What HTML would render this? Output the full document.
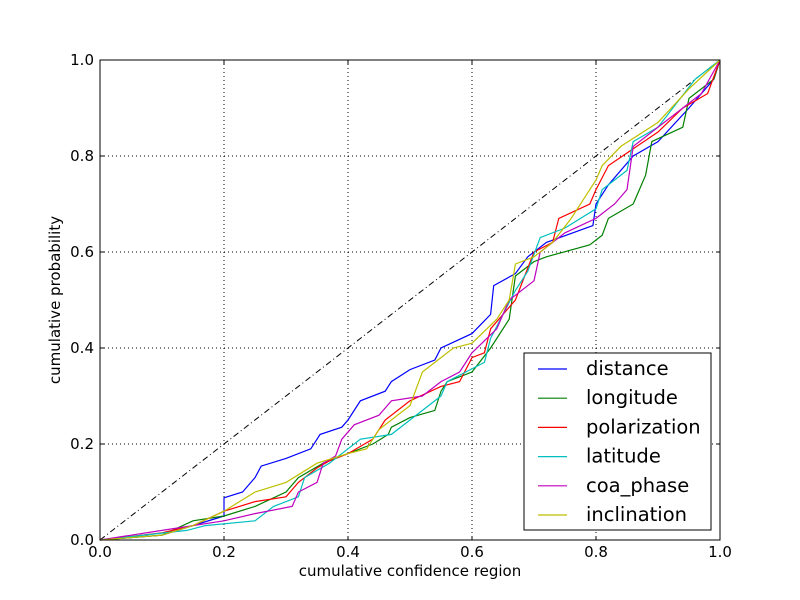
<!DOCTYPE html>
<html><head><meta charset="utf-8"><style>
body{margin:0;background:#fff}
svg{display:block;font-family:"DejaVu Sans","Liberation Sans",sans-serif}
</style></head><body>
<svg id="chart" width="800" height="600">
<rect width="800" height="600" fill="#fff"/>
<g id="grid"></g>
<line x1="100" y1="540" x2="720" y2="60" stroke="#000" stroke-dasharray="6,3,1,3"/>
<g id="series"></g>
<rect x="100" y="60" width="620" height="480" fill="none" stroke="#000"/>
<g id="ticks"></g>
<text x="410" y="576" font-size="15" text-anchor="middle">cumulative confidence region</text>
<text x="60" y="300" font-size="15" text-anchor="middle" transform="rotate(-90 60 300)">cumulative probability</text>
<g id="legend"></g>
</svg>
<script>
const tickVals=[0,0.2,0.4,0.6,0.8,1.0];
const tickLabels=["0.0","0.2","0.4","0.6","0.8","1.0"];
const names=["distance","longitude","polarization","latitude","coa_phase","inclination"];
const colors=["#0000ff","#008000","#ff0000","#00bfbf","#bf00bf","#bfbf00"];
const distanceX=[0,0.1,0.2,0.2,0.23,0.25,0.26,0.3,0.34,0.355,0.39,0.4,0.42,0.46,0.47,0.5,0.54,0.55,0.6,0.63,0.635,0.67,0.69,0.72,0.795,0.8,0.82,0.86,0.9,0.95,0.99,1];
const distanceY=[0,0.01,0.05,0.088,0.1,0.13,0.154,0.17,0.19,0.22,0.235,0.25,0.29,0.31,0.33,0.355,0.375,0.4,0.43,0.47,0.53,0.555,0.59,0.62,0.655,0.7,0.74,0.8,0.83,0.9,0.96,1];
const longitudeX=[0,0.1,0.15,0.2,0.25,0.3,0.32,0.36,0.4,0.44,0.465,0.47,0.5,0.54,0.55,0.56,0.6,0.63,0.66,0.67,0.7,0.72,0.79,0.81,0.82,0.86,0.87,0.88,0.89,0.94,0.95,0.99,1];
const longitudeY=[0,0.01,0.04,0.05,0.07,0.1,0.13,0.16,0.18,0.2,0.22,0.235,0.255,0.27,0.31,0.33,0.35,0.4,0.46,0.55,0.58,0.59,0.615,0.635,0.67,0.7,0.73,0.76,0.83,0.86,0.92,0.96,1];
const polarizationX=[0,0.1,0.15,0.2,0.25,0.3,0.32,0.35,0.37,0.4,0.44,0.46,0.5,0.55,0.58,0.6,0.62,0.63,0.67,0.7,0.73,0.74,0.79,0.8,0.82,0.9,0.94,0.98,1];
const polarizationY=[0,0.015,0.03,0.06,0.08,0.09,0.12,0.15,0.165,0.18,0.21,0.25,0.29,0.32,0.33,0.38,0.39,0.44,0.5,0.6,0.62,0.67,0.7,0.73,0.78,0.85,0.9,0.93,1];
const latitudeX=[0,0.14,0.17,0.25,0.28,0.32,0.33,0.37,0.4,0.42,0.47,0.5,0.53,0.55,0.56,0.59,0.62,0.63,0.67,0.69,0.71,0.75,0.8,0.81,0.85,0.86,0.9,0.96,1];
const latitudeY=[0,0.02,0.03,0.04,0.07,0.09,0.13,0.16,0.19,0.21,0.22,0.25,0.28,0.3,0.33,0.35,0.37,0.42,0.52,0.56,0.63,0.65,0.69,0.73,0.77,0.83,0.86,0.96,1];
const coaX=[0,0.1,0.2,0.25,0.31,0.32,0.35,0.36,0.38,0.39,0.41,0.45,0.47,0.52,0.55,0.58,0.6,0.64,0.66,0.7,0.71,0.75,0.8,0.83,0.85,0.86,0.92,0.97,1];
const coaY=[0,0.02,0.04,0.055,0.07,0.1,0.12,0.16,0.175,0.21,0.24,0.26,0.29,0.3,0.33,0.35,0.39,0.44,0.5,0.54,0.6,0.64,0.67,0.7,0.73,0.82,0.88,0.93,1];
const inclinationX=[0,0.1,0.15,0.2,0.25,0.3,0.35,0.4,0.43,0.45,0.5,0.52,0.55,0.57,0.6,0.64,0.66,0.67,0.7,0.73,0.76,0.8,0.81,0.84,0.9,0.95,1];
const inclinationY=[0,0.01,0.03,0.06,0.1,0.12,0.16,0.18,0.19,0.23,0.28,0.35,0.38,0.4,0.41,0.46,0.5,0.575,0.59,0.62,0.67,0.75,0.78,0.82,0.87,0.94,1];

const NS="http://www.w3.org/2000/svg";
const sx=v=>100+620*v, sy=v=>540-480*v;
function mk(tag,attrs,parent){const e=document.createElementNS(NS,tag);for(const k in attrs)e.setAttribute(k,attrs[k]);parent.appendChild(e);return e;}
const grid=document.getElementById('grid'),ticks=document.getElementById('ticks');
tickVals.forEach((v,i)=>{
  if(v>0&&v<1){
    const gx=mk('line',{x1:sx(v),x2:sx(v),y1:60,y2:540,stroke:'#000','stroke-dasharray':'1,3'},grid);
    
    
    const gy=mk('line',{x1:100,x2:720,y1:sy(v),y2:sy(v),stroke:'#000','stroke-dasharray':'1,3'},grid);
    
    
  }
  mk('line',{x1:sx(v),x2:sx(v),y1:540,y2:536,stroke:'#000'},ticks);
  mk('line',{x1:sx(v),x2:sx(v),y1:60,y2:64,stroke:'#000'},ticks);
  mk('line',{x1:100,x2:104,y1:sy(v),y2:sy(v),stroke:'#000'},ticks);
  mk('line',{x1:720,x2:716,y1:sy(v),y2:sy(v),stroke:'#000'},ticks);
  const tx=mk('text',{x:sx(v),y:557,'font-size':15,'text-anchor':'middle'},ticks);
  tx.textContent=tickLabels[i];
  
  
  const ty=mk('text',{x:94,y:sy(v)+5,'font-size':15,'text-anchor':'end'},ticks);
  ty.textContent=tickLabels[i];
  
  
});
const xs=[distanceX,longitudeX,polarizationX,latitudeX,coaX,inclinationX];
const ys=[distanceY,longitudeY,polarizationY,latitudeY,coaY,inclinationY];
const sg=document.getElementById('series'),lg=document.getElementById('legend');
const lb=mk('rect',{x:524,y:353,width:187,height:177,fill:'#fff',stroke:'#000'},lg);


names.forEach((n,i)=>{
  const pts=xs[i].map((x,j)=>sx(x)+','+sy(ys[i][j])).join(' ');
  const pl=mk('polyline',{points:pts,fill:'none',stroke:colors[i],'stroke-width':1.2},sg);
  
  
  const y=369+29.2*i;
  const g=mk('g',{},lg);
  
  
  mk('line',{x1:538,x2:567,y1:y,y2:y,stroke:colors[i],'stroke-width':1.2},g);
  const t=mk('text',{x:586,y:y+6,'font-size':19.5},g);
  t.textContent=n;
});
</script>
</body></html>
